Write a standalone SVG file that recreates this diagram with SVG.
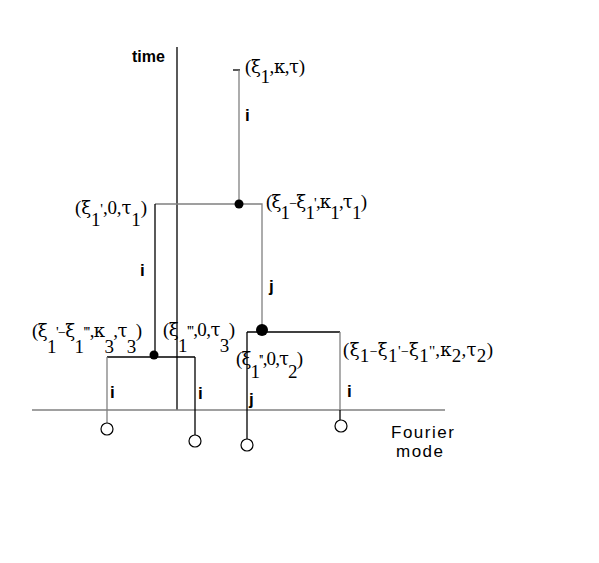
<svg xmlns="http://www.w3.org/2000/svg" width="599" height="563" viewBox="0 0 599 563">
<style>
.k{stroke:#000;stroke-width:1.3;fill:none}
.g{stroke:#808080;stroke-width:1.3;fill:none}
.leaf{stroke:#000;stroke-width:1.2;fill:#fff}
.dot{fill:#000}
.lab{font-family:"Liberation Serif","Times New Roman",serif;font-size:19px;fill:#000}
.gk{font-family:"DejaVu Serif","Liberation Serif",serif;font-size:18px}
.m{font-size:14px}
.p{font-size:15px}
.ij{font-family:"Liberation Sans",Arial,sans-serif;font-size:17px;font-weight:bold;fill:#000}
.ax{font-family:"Liberation Sans",Arial,sans-serif;font-size:17px;letter-spacing:1.5px;fill:#000}
</style>
<rect width="599" height="563" fill="#fff"/>
<g id="axes">
<line class="k" x1="177" y1="47" x2="177" y2="410"/>
<line class="g" x1="32" y1="410" x2="445" y2="410"/>
<text x="132" y="62" font-family="Liberation Sans, Arial, sans-serif" font-size="16" font-weight="bold">time</text>
<text class="ax" x="391" y="438">Fourier</text>
<text class="ax" x="396" y="457">mode</text>
</g>
<g id="connectors">
<line class="k" x1="233" y1="70" x2="240" y2="70"/>
<line class="g" x1="239" y1="70" x2="239" y2="204"/>
<polyline class="g" points="155,204 262,204 262,330"/>
<line class="k" x1="155" y1="204" x2="155" y2="355"/>
<line class="k" x1="247" y1="332" x2="340" y2="332"/>
<line class="k" x1="247" y1="332" x2="247" y2="439"/>
<line class="g" x1="340" y1="332" x2="340" y2="410"/>
<line class="k" x1="340" y1="410" x2="340" y2="420"/>
<line class="k" x1="107" y1="357" x2="195" y2="357"/>
<line class="g" x1="107" y1="357" x2="107" y2="423"/>
<line class="k" x1="195" y1="357" x2="195" y2="435"/>
<text class="ij" x="245" y="121">i</text>
<text class="ij" x="140" y="276">i</text>
<text class="ij" x="269" y="292">j</text>
<text class="ij" x="110" y="398">i</text>
<text class="ij" x="198" y="399">i</text>
<text class="ij" x="249" y="405">j</text>
<text class="ij" x="347" y="397">i</text>
</g>
<g id="n0"><text class="lab" x="245" y="73" textLength="60" lengthAdjust="spacing">(<tspan class="gk">ξ</tspan><tspan dy="10">1</tspan><tspan dy="-10">,</tspan><tspan class="gk">κ</tspan>,<tspan class="gk">τ</tspan>)</text></g>
<g id="n1"><circle class="dot" cx="239" cy="204" r="4.5"/>
<text class="lab" x="266" y="208" textLength="101" lengthAdjust="spacing">(<tspan class="gk">ξ</tspan><tspan dy="11">1</tspan><tspan class="m" dy="-11">−</tspan><tspan class="gk">ξ</tspan><tspan dy="11">1</tspan><tspan class="p" dy="-11">'</tspan>,<tspan class="gk">κ</tspan><tspan dy="11">1</tspan><tspan dy="-11">,</tspan><tspan class="gk">τ</tspan><tspan dy="11">1</tspan><tspan dy="-11">)</tspan></text></g>
<g id="leaf1"><text class="lab" x="75" y="214" textLength="72" lengthAdjust="spacing">(<tspan class="gk">ξ</tspan><tspan dy="12">1</tspan><tspan class="p" dy="-12">'</tspan>,0,<tspan class="gk">τ</tspan><tspan dy="12">1</tspan><tspan dy="-12">)</tspan></text></g>
<g id="n2"><circle class="dot" cx="262" cy="330" r="6"/>
<text class="lab" x="343" y="356" textLength="150" lengthAdjust="spacing">(<tspan class="gk">ξ</tspan><tspan dy="6">1</tspan><tspan class="m" dy="-6">−</tspan><tspan class="gk">ξ</tspan><tspan dy="6">1</tspan><tspan class="p" dy="-6">'</tspan><tspan class="m">−</tspan><tspan class="gk">ξ</tspan><tspan dy="6">1</tspan><tspan class="p" dy="-6">''</tspan>,<tspan class="gk">κ</tspan><tspan dy="6">2</tspan><tspan dy="-6">,</tspan><tspan class="gk">τ</tspan><tspan dy="6">2</tspan><tspan dy="-6">)</tspan></text>
<circle class="leaf" cx="341" cy="426" r="6"/></g>
<g id="leaf2"><text class="lab" x="236" y="365" textLength="67" lengthAdjust="spacing">(<tspan class="gk">ξ</tspan><tspan dy="13">1</tspan><tspan class="p" dy="-13">''</tspan>,0,<tspan class="gk">τ</tspan><tspan dy="13">2</tspan><tspan dy="-13">)</tspan></text>
<circle class="leaf" cx="247" cy="445" r="6"/></g>
<g id="n3"><circle class="dot" cx="154" cy="355" r="4.5"/>
<text class="lab" x="32" y="337" textLength="110" lengthAdjust="spacing">(<tspan class="gk">ξ</tspan><tspan dy="16">1</tspan><tspan class="p" dy="-16">'</tspan><tspan class="m">−</tspan><tspan class="gk">ξ</tspan><tspan dy="16">1</tspan><tspan class="p" dy="-16">'''</tspan>,<tspan class="gk">κ</tspan><tspan dy="16">3</tspan><tspan dy="-16">,</tspan><tspan class="gk">τ</tspan><tspan dy="16">3</tspan><tspan dy="-16">)</tspan></text>
<circle class="leaf" cx="107" cy="429" r="6"/></g>
<g id="leaf3"><text class="lab" x="163" y="336" textLength="72" lengthAdjust="spacing">(<tspan class="gk">ξ</tspan><tspan dy="16">1</tspan><tspan class="p" dy="-16">'''</tspan>,0,<tspan class="gk">τ</tspan><tspan dy="16">3</tspan><tspan dy="-16">)</tspan></text>
<circle class="leaf" cx="195" cy="441" r="6"/></g>
</svg>
